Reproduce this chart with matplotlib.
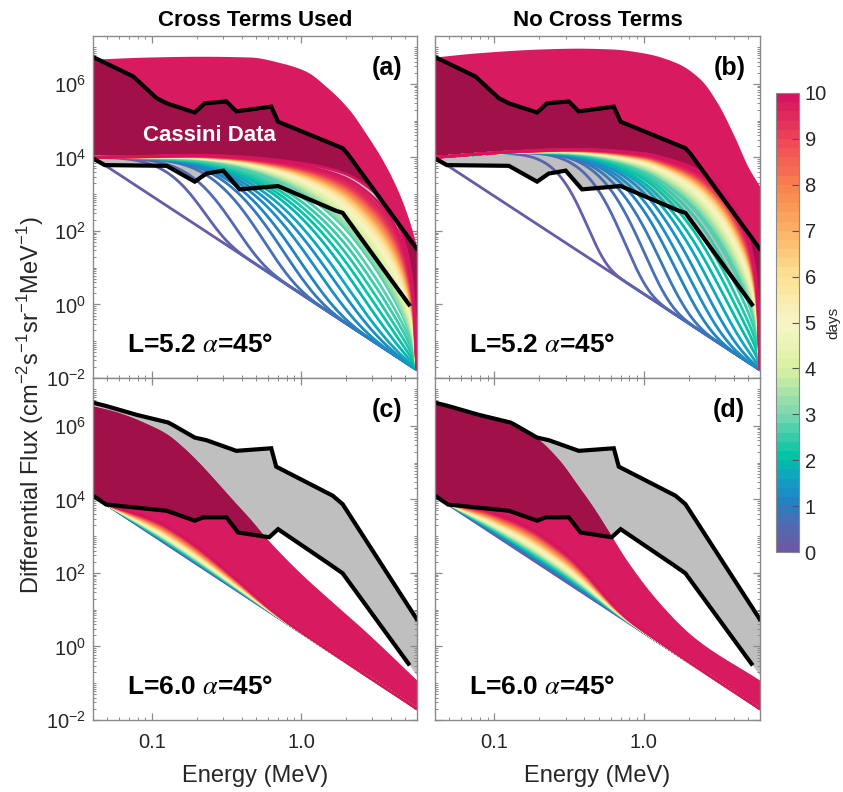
import numpy as np
import matplotlib
matplotlib.use("Agg")
import matplotlib.pyplot as plt
from matplotlib.colors import LinearSegmentedColormap, ListedColormap, Normalize
from matplotlib.ticker import FixedLocator, LogLocator, FuncFormatter, NullFormatter
from matplotlib.cm import ScalarMappable

plt.rcParams['font.family'] = ['Liberation Sans', 'DejaVu Sans']

# ------------------------------------------------------------------ data
days = np.round(np.arange(1, 51) * 0.2, 1)          # simulation output times (days)

# initial (day 0) power-law spectra, log10 flux at the energy-range ends
p_ab_E = [0.04, 6.0]
p_ab_log = [4.00, -1.78]
p_cd_E = [0.04, 6.0]
p_cd_log = [4.10, -1.70]

# Cassini data envelopes (log10 flux)
cas52_up_E = [0.04, 0.0746, 0.107, 0.125, 0.193, 0.225, 0.315, 0.367, 0.63, 0.70, 1.9, 2.05, 5.96]
cas52_up = [6.73, 6.20, 5.61, 5.47, 5.22, 5.47, 5.52, 5.25, 5.38, 4.97, 4.25, 4.10, 1.52]
cas52_lo_E = [0.04, 0.048, 0.125, 0.193, 0.231, 0.30, 0.386, 0.70, 1.71, 1.90, 5.3]
cas52_lo = [3.97, 3.79, 3.77, 3.34, 3.56, 3.64, 3.13, 3.22, 2.55, 2.49, 0.0]

cas60_up_E = [0.04, 0.049, 0.0785, 0.128, 0.138, 0.193, 0.231, 0.367, 0.63, 0.68, 1.63, 1.90, 5.96]
cas60_up = [6.63, 6.54, 6.30, 6.09, 6.02, 5.68, 5.61, 5.32, 5.39, 4.89, 4.10, 3.87, 0.75]
cas60_lo_E = [0.04, 0.049, 0.125, 0.193, 0.22, 0.315, 0.377, 0.61, 0.70, 1.55, 1.90, 5.26]
cas60_lo = [4.10, 3.86, 3.69, 3.42, 3.51, 3.51, 3.10, 2.97, 3.19, 2.24, 1.99, -0.47]

# day-10 model band (lower / upper, log10 flux)
band_a_low_E = [0.04, 0.1, 0.2, 0.355, 0.59, 1.0, 1.89, 3.16, 4.09, 4.78, 5.3, 5.71, 6.0]
band_a_low = [4.00, 4.03, 4.06, 4.03, 3.96, 3.85, 3.60, 3.05, 2.50, 1.90, 1.20, 0.20, -1.78]
band_a_up_E = [0.04, 0.096, 0.21, 0.45, 0.75, 1.08, 1.47, 2.11, 2.72, 3.52, 4.55, 5.31, 6.0]
band_a_up = [6.67, 6.73, 6.75, 6.73, 6.56, 6.34, 5.93, 5.29, 4.65, 3.93, 3.02, 2.29, 1.56]

band_b_low_E = [0.04, 0.126, 0.356, 1.0, 1.48, 2.2, 3.2, 4.6, 5.38, 5.82, 6.0]
band_b_low = [4.00, 4.15, 4.22, 4.11, 3.95, 3.70, 3.20, 2.20, 1.30, 0.10, -1.78]
band_b_up_E = [0.04, 0.075, 0.212, 0.356, 0.596, 1.0, 1.68, 2.41, 3.12, 4.05, 4.98, 6.0]
band_b_up = [6.73, 6.84, 6.95, 6.97, 6.95, 6.84, 6.56, 6.11, 5.47, 4.56, 3.75, 3.20]

band_c_low_E = [0.04, 0.0519, 0.067, 0.0867, 0.112, 0.145, 0.1875, 0.242, 0.313, 0.405, 0.501, 0.631, 0.794, 1.26, 6.0]
band_c_low = [4.10, 3.84, 3.70, 3.56, 3.38, 3.12, 2.81, 2.46, 2.08, 1.69, 1.35, 1.00, 0.68, 0.12, -1.70]
band_c_up_E = [0.04, 0.0575, 0.0964, 0.125, 0.161, 0.208, 0.27, 0.348, 0.451, 0.583, 0.975, 1.63, 2.72, 6.0]
band_c_up = [6.54, 6.38, 6.02, 5.78, 5.42, 4.98, 4.48, 3.98, 3.48, 2.95, 2.02, 1.20, 0.40, -0.92]

band_d_low_E = [0.04, 0.0501, 0.066, 0.0851, 0.111, 0.1445, 0.186, 0.241, 0.312, 0.405, 0.501, 0.631, 0.794, 1.26, 6.0]
band_d_low = [4.10, 3.91, 3.80, 3.72, 3.57, 3.39, 3.16, 2.85, 2.49, 2.03, 1.59, 1.12, 0.73, 0.14, -1.70]
band_d_up_E = [0.04, 0.075, 0.126, 0.191, 0.274, 0.356, 0.46, 0.596, 0.773, 1.29, 2.17, 6.0]
band_d_up = [6.59, 6.36, 6.14, 5.68, 5.05, 4.42, 3.78, 3.06, 2.33, 1.16, 0.25, -0.92]

# roll-over energy (MeV) and roll-over sharpness of each daily spectrum, L=5.2
knee_a = [0.19, 0.304, 0.47, 0.616, 0.765, 0.97, 1.209, 1.484, 1.846, 2.235, 2.69, 3.23,
          3.83, 4.63,
          5.0, 5.35, 5.75, 6.15, 6.55, 7.0, 7.45, 7.95, 8.45, 8.95,
          9.5, 10.1, 10.7, 11.2, 11.8, 12.5, 13.3, 14.1, 14.9, 15.7,
          16.5, 17.5, 18.5, 19.6, 20.8, 22.0, 23.8, 25.6, 27.5, 29.6,
          32, 36, 42, 55, 90, 1000]
sharp_a = [2.2, 1.9, 1.7, 1.5, 1.35, 1.2, 1.1, 1.05, 1.0, 0.95, 0.92, 0.9, 0.9, 0.9] + [0.9] * 36
knee_b = [0.389, 0.691, 0.921, 1.167, 1.461, 1.77, 2.149, 2.609, 3.154, 3.80, 4.51, 5.45,
          6.70, 7.8,
          8.4, 9.0, 9.6, 10.2, 10.9, 11.6, 12.3, 13.0, 13.8, 14.6,
          15.5, 16.4, 17.3, 18.3, 19.3, 20.4, 21.5, 22.7, 24.0, 25.3,
          26.7, 28.2, 29.8, 31.5, 33.3, 35.2, 37.5, 40, 43, 46.5,
          51, 58, 70, 95, 160, 2000]
sharp_b = [3.0, 2.5, 2.2, 1.9, 1.7, 1.55, 1.45, 1.35, 1.25, 1.2, 1.15, 1.1, 1.05] + [1.0] * 37
# fraction of the day-10 enhancement reached each day, L=6.0
growth_c = [0.01, 0.02, 0.03, 0.04, 0.05, 0.06, 0.08, 0.09, 0.11, 0.12, 0.14, 0.16, 0.17,
            0.19, 0.21, 0.23, 0.25, 0.27, 0.28, 0.30, 0.32, 0.34, 0.36, 0.39, 0.41, 0.43,
            0.45, 0.47, 0.49, 0.51, 0.54, 0.56, 0.58, 0.61, 0.63, 0.65, 0.68, 0.70, 0.72,
            0.75, 0.77, 0.80, 0.82, 0.85, 0.87, 0.90, 0.92, 0.95, 0.97, 1.00]
growth_d = [0.02, 0.04, 0.05, 0.07, 0.09, 0.10, 0.12, 0.14, 0.16, 0.18, 0.20, 0.22, 0.24,
            0.26, 0.28, 0.30, 0.32, 0.34, 0.36, 0.38, 0.40, 0.42, 0.44, 0.46, 0.48, 0.50,
            0.52, 0.54, 0.56, 0.58, 0.60, 0.62, 0.64, 0.66, 0.68, 0.70, 0.72, 0.74, 0.76,
            0.78, 0.80, 0.82, 0.84, 0.86, 0.88, 0.90, 0.92, 0.94, 0.97, 1.00]

titles = ['Cross Terms Used', 'No Cross Terms']
panel_tags = ['(a)', '(b)', '(c)', '(d)']
shell_text = [r'L=5.2 $\alpha$=45°', r'L=5.2 $\alpha$=45°', r'L=6.0 $\alpha$=45°', r'L=6.0 $\alpha$=45°']

# ------------------------------------------------------------------ style
cmap_anchors = [(0.00, '#6a5aa6'), (0.05, '#4d6cb3'), (0.10, '#2481c2'), (0.15, '#10a0c4'),
                (0.20, '#00c2a6'), (0.30, '#80d8b0'), (0.40, '#dbf1a2'), (0.50, '#f8f5c8'),
                (0.60, '#fde294'), (0.70, '#fdb467'), (0.80, '#f8844c'), (0.90, '#f04a57'),
                (1.00, '#d6145f')]
base = LinearSegmentedColormap.from_list('daymap', cmap_anchors)
cmap = ListedColormap(base(np.linspace(0, 1, 50)))
norm = Normalize(0, 10)

CRIMSON = '#d81b60'
DARK = '#a0114a'
GRAY = '#bfbfbf'
SPINE = '#8a8a8a'
TXT = '#262626'


def pchip(x, y, xn):
    x = np.asarray(x, float); y = np.asarray(y, float)
    h = np.diff(x); dl = np.diff(y) / h
    d = np.zeros_like(y)
    d[0] = dl[0]; d[-1] = dl[-1]
    for k in range(1, len(x) - 1):
        if dl[k - 1] * dl[k] <= 0:
            d[k] = 0.0
        else:
            w1 = 2 * h[k] + h[k - 1]; w2 = h[k] + 2 * h[k - 1]
            d[k] = (w1 + w2) / (w1 / dl[k - 1] + w2 / dl[k])
    i = np.clip(np.searchsorted(x, xn) - 1, 0, len(x) - 2)
    t = (xn - x[i]) / h[i]
    h00 = 2 * t**3 - 3 * t**2 + 1; h10 = t**3 - 2 * t**2 + t
    h01 = -2 * t**3 + 3 * t**2; h11 = t**3 - t**2
    return h00 * y[i] + h10 * h[i] * d[i] + h01 * y[i + 1] + h11 * h[i] * d[i + 1]


def interp_ext(lx, x, y):
    """piecewise-linear in log-log, linearly extended past the last point"""
    x = np.log10(x); y = np.asarray(y, float)
    out = np.interp(lx, x, y)
    slope = (y[-1] - y[-2]) / (x[-1] - x[-2])
    m = lx > x[-1]
    out[m] = y[-1] + slope * (lx[m] - x[-1])
    return out


Eg = np.geomspace(0.04, 6.0, 700)
lg = np.log10(Eg)

W, Hh = 843, 792
fig = plt.figure(figsize=(W / 100, Hh / 100), dpi=100)


def rect(x0, y0, x1, y1):
    return [x0 / W, 1 - y1 / Hh, (x1 - x0) / W, (y1 - y0) / Hh]


axes = [fig.add_axes(rect(93, 36, 417, 378)), fig.add_axes(rect(435, 36, 760, 378)),
        fig.add_axes(rect(93, 378, 417, 720)), fig.add_axes(rect(435, 378, 760, 720))]

panels = [
    dict(p=(p_ab_E, p_ab_log), lo=(band_a_low_E, band_a_low), up=(band_a_up_E, band_a_up),
         cu=(cas52_up_E, cas52_up), cl=(cas52_lo_E, cas52_lo), knee=knee_a, m=sharp_a),
    dict(p=(p_ab_E, p_ab_log), lo=(band_b_low_E, band_b_low), up=(band_b_up_E, band_b_up),
         cu=(cas52_up_E, cas52_up), cl=(cas52_lo_E, cas52_lo), knee=knee_b, m=sharp_b),
    dict(p=(p_cd_E, p_cd_log), lo=(band_c_low_E, band_c_low), up=(band_c_up_E, band_c_up),
         cu=(cas60_up_E, cas60_up), cl=(cas60_lo_E, cas60_lo), growth=growth_c),
    dict(p=(p_cd_E, p_cd_log), lo=(band_d_low_E, band_d_low), up=(band_d_up_E, band_d_up),
         cu=(cas60_up_E, cas60_up), cl=(cas60_lo_E, cas60_lo), growth=growth_d),
]

for i, (ax, pn) in enumerate(zip(axes, panels)):
    ax.set_xscale('log'); ax.set_yscale('log')
    logP = np.interp(lg, np.log10(pn['p'][0]), pn['p'][1])
    logH = np.maximum(pchip(np.log10(pn['lo'][0]), pn['lo'][1], lg), logP)
    logU = pchip(np.log10(pn['up'][0]), pn['up'][1], lg)
    gU = interp_ext(lg, *pn['cu'])
    gL = interp_ext(lg, *pn['cl'])

    ax.fill_between(Eg, 10**gL, 10**gU, color=GRAY, lw=0, zorder=1)
    ax.fill_between(Eg, 10**logH, 10**logU, color=CRIMSON, lw=0, zorder=2)
    olo = np.maximum(gL, logH); ohi = np.minimum(gU, logU)
    ax.fill_between(Eg, 10**olo, 10**ohi, where=ohi > olo, interpolate=True,
                    color=DARK, lw=0, zorder=3)

    ax.plot(Eg, 10**logP, color=cmap(norm(0)), lw=2, zorder=4)
    for k, d in enumerate(days):
        if 'knee' in pn:
            s = np.exp(-(Eg / pn['knee'][k])**pn['m'][k])
            lw = 2.0
        else:
            s = pn['growth'][k]
            lw = 1.4
        y = logP + (logH - logP) * s
        ax.plot(Eg, 10**y, color=cmap(norm(d)), lw=lw, zorder=4, solid_capstyle='butt')

    ax.plot(pn['cu'][0], 10**np.array(pn['cu'][1]), color='black', lw=3, zorder=6,
            solid_joinstyle='miter')
    ax.plot(pn['cl'][0], 10**np.array(pn['cl'][1]), color='black', lw=3, zorder=6,
            solid_joinstyle='miter')

    ax.set_xlim(0.04, 6.0)
    ax.set_ylim(1e-2, 2e7)
    ax.xaxis.set_major_locator(FixedLocator([0.1, 1.0]))
    ax.xaxis.set_major_formatter(FuncFormatter(lambda v, p: '%.1f' % v))
    ax.xaxis.set_minor_locator(LogLocator(base=10, subs=np.arange(2, 10), numticks=30))
    ax.xaxis.set_minor_formatter(NullFormatter())
    ax.yaxis.set_major_locator(FixedLocator([1e-2, 1e0, 1e2, 1e4, 1e6]))
    ax.yaxis.set_major_formatter(FuncFormatter(
        lambda v, p: r'$\mathregular{10^{%d}}$' % int(round(np.log10(v)))))
    ax.yaxis.set_minor_locator(LogLocator(base=10, subs=np.arange(1, 10), numticks=30))
    ax.yaxis.set_minor_formatter(NullFormatter())
    ax.tick_params(which='both', direction='in', top=True, right=True, color=SPINE,
                   labelcolor=TXT, labelsize=14.5)
    ax.tick_params(which='major', length=5, width=0.9)
    ax.tick_params(which='minor', length=2.5, width=0.7)
    ax.tick_params(axis='x', pad=9)
    ax.tick_params(axis='y', pad=5)
    for sp in ax.spines.values():
        sp.set_color(SPINE); sp.set_linewidth(1.0); sp.set_zorder(10)
    if i in (0, 1):
        ax.tick_params(labelbottom=False)
        ax.set_title(titles[i], fontsize=16, fontweight='bold', pad=7, color='black')
    if i in (1, 3):
        ax.tick_params(labelleft=False)

    ax.text(0.955, 0.905, panel_tags[i], transform=ax.transAxes, ha='right', va='center',
            fontsize=18, fontweight='bold', zorder=12)
    ax.text(0.105, 0.096, shell_text[i], transform=ax.transAxes, ha='left', va='center',
            fontsize=19, fontweight='bold', math_fontfamily='stix', zorder=12)
    if i == 0:
        ax.text(0.358, 0.708, 'Cassini Data', transform=ax.transAxes, ha='center',
                va='center', fontsize=16, fontweight='bold', color='white', zorder=12)

fig.text(31 / W, 1 - 405 / Hh,
         r'Differential Flux (cm$^{\mathregular{-2}}$s$^{\mathregular{-1}}$sr$^{\mathregular{-1}}$MeV$^{\mathregular{-1}}$)',
         rotation=90, ha='center', va='center', fontsize=17, color=TXT)
for cx in (255, 597):
    fig.text(cx / W, 1 - 776 / Hh, 'Energy (MeV)', ha='center', va='center',
             fontsize=17, color=TXT)

cax = fig.add_axes(rect(776, 93, 799, 552))
sm = ScalarMappable(norm=norm, cmap=cmap)
cb = fig.colorbar(sm, cax=cax, ticks=range(0, 11))
cb.outline.set_edgecolor(SPINE)
cb.outline.set_linewidth(0.8)
cax.tick_params(direction='in', length=5, color='#555555', labelsize=14.5,
                labelcolor=TXT, pad=4)
cb.set_label('days', fontsize=11, color=TXT)
cax.yaxis.set_label_coords(2.2, 0.5)

fig.savefig('out.png', dpi=100)
